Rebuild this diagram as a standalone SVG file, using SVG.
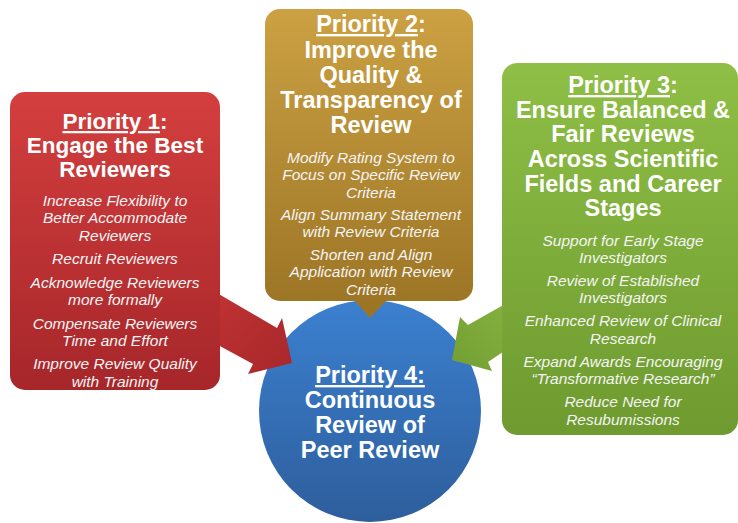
<svg xmlns="http://www.w3.org/2000/svg" width="738" height="523" viewBox="0 0 738 523">
<defs>
<linearGradient id="gRed" x1="0" y1="0" x2="0" y2="1"><stop offset="0" stop-color="#d43f3e"/><stop offset="1" stop-color="#a6262a"/></linearGradient>
<linearGradient id="gGold" x1="0" y1="0" x2="0" y2="1"><stop offset="0" stop-color="#cca143"/><stop offset="1" stop-color="#9a7324"/></linearGradient>
<linearGradient id="gGreen" x1="0" y1="0" x2="0" y2="1"><stop offset="0" stop-color="#8fbf46"/><stop offset="1" stop-color="#6e9a2f"/></linearGradient>
<linearGradient id="gBlue" x1="0" y1="0" x2="0" y2="1"><stop offset="0" stop-color="#3b80d0"/><stop offset="1" stop-color="#2e5e9c"/></linearGradient>
<linearGradient id="gRedArrow" x1="0" y1="0" x2="1" y2="1"><stop offset="0" stop-color="#c23434"/><stop offset="1" stop-color="#a8272a"/></linearGradient>
<linearGradient id="gGreenArrow" x1="1" y1="0" x2="0" y2="1"><stop offset="0" stop-color="#84b23f"/><stop offset="1" stop-color="#739f33"/></linearGradient>
</defs>
<style>
text{font-family:"Liberation Sans",Arial,sans-serif;fill:#ffffff;text-anchor:middle}
.t{font-size:23.5px;font-weight:bold}
.r{font-size:22.5px}
.i{font-size:15.5px;font-style:italic;fill:#f4f4f4}
.u{text-decoration:underline}
</style>
<g id="priority4">
<circle cx="370" cy="411" r="111" fill="url(#gBlue)"/>
<text class="t" x="370" y="383"><tspan class="u">Priority 4:</tspan></text>
<text class="t" x="370" y="408">Continuous</text>
<text class="t" x="370" y="433">Review of</text>
<text class="t" x="370" y="458">Peer Review</text>
</g>
<g id="connectors">
<polygon points="205,286 277,328 282,318 292,363 248,374 253,364 205,338" fill="url(#gRedArrow)"/>
<polygon points="512,300 468,325 460,317 452,360 492,371 488,362 512,346" fill="url(#gGreenArrow)"/>
</g>
<g id="priority1">
<rect x="10" y="92" width="210" height="298" rx="15" fill="url(#gRed)"/>
<text class="t r" x="115" y="129"><tspan class="u">Priority 1</tspan>:</text>
<text class="t r" x="115" y="153">Engage the Best</text>
<text class="t r" x="115" y="177">Reviewers</text>
<text class="i" x="115" y="206">Increase Flexibility to</text>
<text class="i" x="115" y="223">Better Accommodate</text>
<text class="i" x="115" y="241">Reviewers</text>
<text class="i" x="115" y="264">Recruit Reviewers</text>
<text class="i" x="115" y="288">Acknowledge Reviewers</text>
<text class="i" x="115" y="305">more formally</text>
<text class="i" x="115" y="329">Compensate Reviewers</text>
<text class="i" x="115" y="346">Time and Effort</text>
<text class="i" x="115" y="369">Improve Review Quality</text>
<text class="i" x="115" y="387">with Training</text>
</g>
<g id="priority2">
<path d="M280,9 H458 A15,15 0 0 1 473,24 V286 A15,15 0 0 1 458,301 H386 L370,318 L355,301 H280 A15,15 0 0 1 265,286 V24 A15,15 0 0 1 280,9 Z" fill="url(#gGold)"/>
<text class="t" x="371" y="32"><tspan class="u">Priority 2</tspan>:</text>
<text class="t" x="371" y="58">Improve the</text>
<text class="t" x="371" y="83">Quality &amp;</text>
<text class="t" x="371" y="108">Transparency of</text>
<text class="t" x="371" y="133">Review</text>
<text class="i" x="371" y="163">Modify Rating System to</text>
<text class="i" x="371" y="180">Focus on Specific Review</text>
<text class="i" x="371" y="198">Criteria</text>
<text class="i" x="371" y="220">Align Summary Statement</text>
<text class="i" x="371" y="237">with Review Criteria</text>
<text class="i" x="371" y="260">Shorten and Align</text>
<text class="i" x="371" y="277">Application with Review</text>
<text class="i" x="371" y="295">Criteria</text>
</g>
<g id="priority3">
<rect x="502" y="63" width="236" height="372" rx="15" fill="url(#gGreen)"/>
<text class="t" x="623" y="93"><tspan class="u">Priority 3</tspan>:</text>
<text class="t" x="623" y="118">Ensure Balanced &amp;</text>
<text class="t" x="623" y="142">Fair Reviews</text>
<text class="t" x="623" y="167">Across Scientific</text>
<text class="t" x="623" y="192">Fields and Career</text>
<text class="t" x="623" y="216">Stages</text>
<text class="i" x="623" y="246">Support for Early Stage</text>
<text class="i" x="623" y="263">Investigators</text>
<text class="i" x="623" y="286">Review of Established</text>
<text class="i" x="623" y="303">Investigators</text>
<text class="i" x="623" y="326">Enhanced Review of Clinical</text>
<text class="i" x="623" y="344">Research</text>
<text class="i" x="623" y="367">Expand Awards Encouraging</text>
<text class="i" x="623" y="384">“Transformative Research”</text>
<text class="i" x="623" y="407">Reduce Need for</text>
<text class="i" x="623" y="425">Resubumissions</text>
</g>
</svg>
